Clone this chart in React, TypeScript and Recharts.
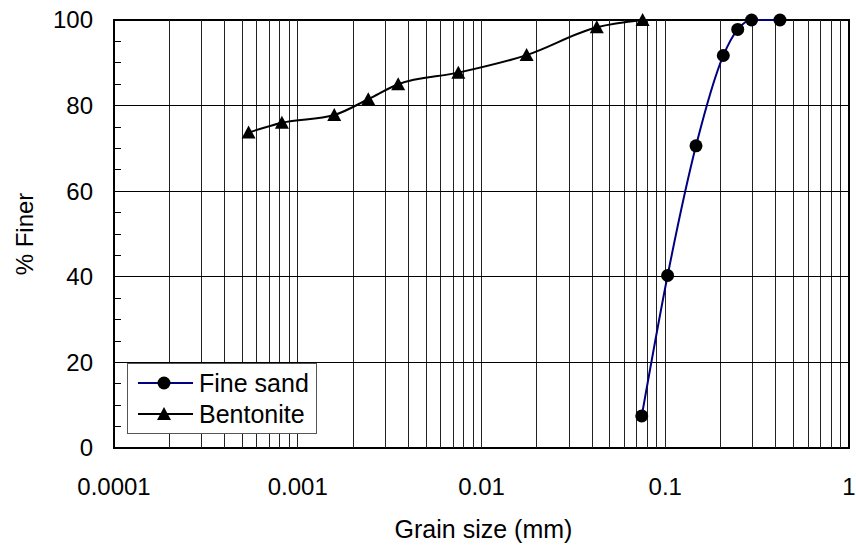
import { LineChart, Line, XAxis, YAxis, ReferenceLine, ReferenceArea, Legend } from 'recharts';

// grain size (mm) and % finer
const sandSize = [0.0745, 0.103, 0.147, 0.207, 0.248, 0.295, 0.421];
const sandFiner = [7.5, 40.3, 70.6, 91.7, 97.8, 100, 100];

const bentSize = [0.00054, 0.00082, 0.00158, 0.00242, 0.00352, 0.00748, 0.0176, 0.0424, 0.0753];
const bentFiner = [73.7, 76.0, 77.8, 81.5, 85.0, 87.7, 91.8, 98.3, 100];

const seriesNames = ['Fine sand', 'Bentonite'];
const seriesColors = ['#000080', '#000'];

const xTicks = [0.0001, 0.001, 0.01, 0.1, 1];
const yTicks = [0, 5, 10, 15, 20, 25, 30, 35, 40, 45, 50, 55, 60, 65, 70, 75, 80, 85, 90, 95, 100];
const yGrid = [20, 40, 60, 80];
const multipliers = [1, 2, 3, 4, 5, 6, 7, 8, 9];

const sandData = sandSize.map((s, i) => ({ size: s, finer: sandFiner[i] }));
const bentData = bentSize.map((s, i) => ({ size: s, finer: bentFiner[i] }));

// log grid lines inside each decade
const xGrid: number[] = [];
[0.0001, 0.001, 0.01, 0.1].forEach(d => {
  multipliers.forEach(m => {
    if (d * m > 0.0001) xGrid.push(+(d * m).toPrecision(3));
  });
});

const FONT = '"Liberation Sans", Arial, sans-serif';

const XTick = ({ x, y, payload }: any) => (
  <text x={x} y={y + 47} textAnchor="middle" fontSize={24} fontFamily={FONT} fill="#000">
    {String(payload.value)}
  </text>
);

const YTick = ({ x, y, payload }: any) => (
  <g>
    <line x1={x} x2={x + 7} y1={y} y2={y} stroke="#000" strokeWidth={1} shapeRendering="crispEdges" />
    {payload.value % 20 === 0 && (
      <text x={x - 21} y={y} dy="0.35em" textAnchor="end" fontSize={24} fontFamily={FONT} fill="#000">
        {payload.value}
      </text>
    )}
  </g>
);

const YTitle = ({ viewBox }: any) => {
  const cx = viewBox.x + 33;
  const cy = viewBox.y + viewBox.height / 2;
  return (
    <text x={cx} y={cy} transform={`rotate(-90, ${cx}, ${cy})`} textAnchor="middle" fontSize={24} fontFamily={FONT} fill="#000">
      % Finer
    </text>
  );
};

const XTitle = ({ viewBox }: any) => (
  <text x={viewBox.x + viewBox.width / 2 + 2} y={538} textAnchor="middle" fontSize={25} fontFamily={FONT} fill="#000">
    Grain size (mm)
  </text>
);

const Circle = (props: any) => {
  const { cx, cy, key } = props;
  return <circle key={key} cx={cx} cy={cy} r={6.5} fill="#000" />;
};

const tri = (cx: number, cy: number) => `${cx},${cy - 7} ${cx - 7},${cy + 6} ${cx + 7},${cy + 6}`;

const Triangle = (props: any) => {
  const { cx, cy, key } = props;
  return <polygon key={key} points={tri(cx, cy)} fill="#000" />;
};

const LegendBox = () => (
  <svg width={190} height={71}>
    <rect x={0.5} y={0.5} width={189} height={70} fill="#fff" stroke="#555" />
    {seriesNames.map((name, i) => {
      const cy = 20 + i * 31;
      return (
        <g key={name}>
          <line x1={11} x2={66} y1={cy} y2={cy} stroke={seriesColors[i]} strokeWidth={2} />
          {i === 0 ? <circle cx={37} cy={cy} r={6.5} fill="#000" /> : <polygon points={tri(37, cy)} fill="#000" />}
          <text x={72} y={cy} dy="0.35em" fontSize={25} fontFamily={FONT} fill="#000">
            {name}
          </text>
        </g>
      );
    })}
  </svg>
);

export default function App() {
  return (
    <div style={{ position: 'absolute', left: 0, top: 0, width: 856, height: 546, background: '#fff' }}>
      <LineChart width={856} height={546} margin={{ top: 20, right: 7, left: 0, bottom: 0 }}>
        <XAxis
          dataKey="size"
          type="number"
          scale="log"
          domain={[0.0001, 1]}
          ticks={xTicks}
          allowDataOverflow
          height={98}
          tickSize={0}
          tickMargin={0}
          axisLine={false}
          tickLine={false}
          tick={<XTick />}
          label={<XTitle />}
        />
        <YAxis
          type="number"
          domain={[0, 100]}
          ticks={yTicks}
          interval={0}
          width={114}
          tickSize={0}
          tickMargin={0}
          axisLine={false}
          tickLine={false}
          tick={<YTick />}
          label={<YTitle />}
        />
        {xGrid.map(v => (
          <ReferenceLine key={'x' + v} x={v} stroke="#222" strokeWidth={1} shapeRendering="crispEdges" />
        ))}
        {yGrid.map(v => (
          <ReferenceLine key={'y' + v} y={v} stroke="#000" strokeWidth={1} shapeRendering="crispEdges" />
        ))}
        <ReferenceArea x1={0.0001} x2={1} y1={0} y2={100} fill="none" stroke="#000" strokeWidth={2} />
        <Line
          data={sandData}
          dataKey="finer"
          name={seriesNames[0]}
          type="monotone"
          stroke={seriesColors[0]}
          strokeWidth={2}
          dot={Circle}
          activeDot={false}
          isAnimationActive={false}
        />
        <Line
          data={bentData}
          dataKey="finer"
          name={seriesNames[1]}
          type="monotone"
          stroke={seriesColors[1]}
          strokeWidth={2}
          dot={Triangle}
          activeDot={false}
          isAnimationActive={false}
        />
        <Legend
          layout="vertical"
          align="center"
          verticalAlign="middle"
          content={<LegendBox />}
          wrapperStyle={{ left: 127, top: 363, width: 190, height: 71 }}
        />
      </LineChart>
    </div>
  );
}
